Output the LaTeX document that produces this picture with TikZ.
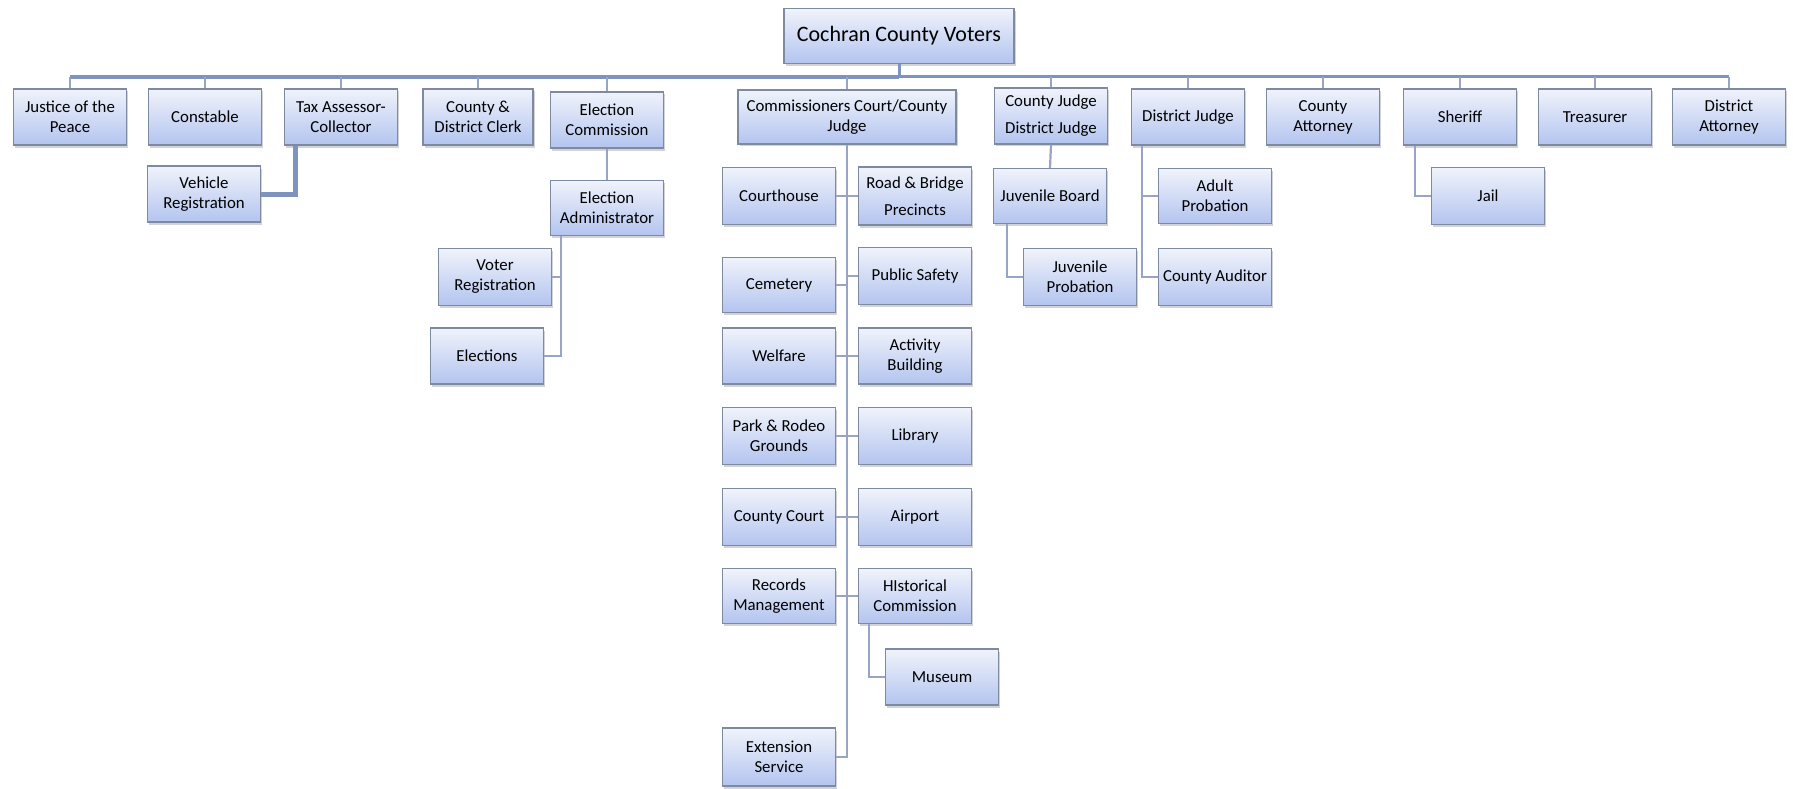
\documentclass[tikz,border=0pt]{standalone}
\usepackage{fontspec}
\setmainfont{Carlito}
\usetikzlibrary{calc,shadows}
\definecolor{boxtop}{HTML}{F0F3FB}
\definecolor{boxbot}{HTML}{B3C4EF}
\definecolor{boxline}{HTML}{7E8AA2}
\definecolor{linkc}{HTML}{7F93BF}
\definecolor{linkl}{HTML}{98A4C4}
\tikzset{
  orgbox/.style={draw=boxline, line width=1.1pt, top color=boxtop, bottom color=boxbot,
    minimum width=113pt, minimum height=56pt, inner sep=1pt, align=center,
    font=\fontsize{16.8}{20}\selectfont,
    drop shadow={shadow xshift=1.5pt, shadow yshift=-2.5pt, opacity=0.35, fill=gray}},
  busline/.style={draw=linkc, line width=4.5pt},
  busthin/.style={draw=linkc, line width=3pt},
  link/.style={draw=linkl, line width=2.2pt},
  thick link/.style={draw=linkc, line width=5pt}
}
\begin{document}
\begin{tikzpicture}[x=1pt,y=-1pt]
\useasboundingbox (0,0) rectangle (1793,789);
% top
\node[orgbox, minimum width=230pt, minimum height=55pt, font=\fontsize{22}{26}\selectfont] (cochran) at (899,36) {Cochran County Voters};
\coordinate (busy) at (0,77);
% first row
\node[orgbox] (justice) at (70,117) {Justice of the\\Peace};
\node[orgbox] (constable) at (205,117) {Constable};
\node[orgbox] (tax) at (341,117) {Tax Assessor-\\Collector};
\node[orgbox, minimum width=110pt] (clerk) at (478,117) {County \&\\District Clerk};
\node[orgbox] (elcom) at (607,120) {Election\\Commission};
\node[orgbox, minimum width=218pt, minimum height=54pt] (comm) at (847,117) {Commissioners Court/County\\Judge};
\node[orgbox] (cjudge) at (1051,116) {County Judge\\[7pt]District Judge};
\node[orgbox] (djudge) at (1188,117) {District Judge};
\node[orgbox] (cattorney) at (1323,117) {County\\Attorney};
\node[orgbox] (sheriff) at (1460,117) {Sheriff};
\node[orgbox] (treasurer) at (1595,117) {Treasurer};
\node[orgbox] (dattorney) at (1729,117) {District\\Attorney};
% second level
\node[orgbox] (vehicle) at (204,194) {Vehicle\\Registration};
\node[orgbox, minimum height=55pt] (eladmin) at (607,208) {Election\\Administrator};
\node[orgbox, minimum height=57pt] (voterreg) at (495,277) {Voter\\Registration};
\node[orgbox] (elections) at (487,356) {Elections};
\node[orgbox, minimum height=57pt] (courthouse) at (779,196) {Courthouse};
\node[orgbox, minimum height=58pt] (road) at (915,196) {Road \& Bridge\\[7pt]Precincts};
\node[orgbox, minimum height=55pt] (cemetery) at (779,285) {Cemetery};
\node[orgbox, minimum height=57pt] (publicsafety) at (915,276) {Public Safety};
\node[orgbox] (welfare) at (779,356) {Welfare};
\node[orgbox] (activity) at (915,356) {Activity\\Building};
\node[orgbox, minimum height=57pt] (park) at (779,436) {Park \& Rodeo\\Grounds};
\node[orgbox, minimum height=57pt] (library) at (915,436) {Library};
\node[orgbox, minimum height=57pt] (countycourt) at (779,517) {County Court};
\node[orgbox, minimum height=57pt] (airport) at (915,517) {Airport};
\node[orgbox, minimum height=55pt] (records) at (779,596) {Records\\Management};
\node[orgbox, minimum height=55pt] (historical) at (915,596) {HIstorical\\Commission};
\node[orgbox] (museum) at (942,677) {Museum};
\node[orgbox, minimum height=58pt] (extension) at (779,757) {Extension\\Service};
\node[orgbox, minimum height=55pt] (juvboard) at (1050,196) {Juvenile Board};
\node[orgbox, minimum height=57pt] (juvprob) at (1080,277) {Juvenile\\Probation};
\node[orgbox, minimum height=55pt] (adultprob) at (1215,196) {Adult\\Probation};
\node[orgbox, minimum height=57pt] (auditor) at (1215,277) {County Auditor};
\node[orgbox, minimum height=57pt] (jail) at (1488,196) {Jail};
% helper coordinates
\coordinate (taxsp) at ($(tax.south west)+(12,0)$);
\coordinate (easp) at ($(eladmin.south west)+(11,0)$);
\coordinate (jbsp) at ($(juvboard.south west)+(14,0)$);
\coordinate (djsp) at ($(djudge.south west)+(11,0)$);
\coordinate (shsp) at ($(sheriff.south west)+(12,0)$);
\coordinate (hisp) at ($(historical.south west)+(11,0)$);
% bus
\draw[busline] (justice.north |- busy) -- (cochran.south |- busy);
\draw[busthin] (cochran.south |- busy) -- (dattorney.north |- busy);
\draw[busthin] (cochran.south) -- (cochran.south |- busy);
\foreach \n in {justice,constable,tax,clerk,elcom,comm,cjudge,djudge,cattorney,sheriff,treasurer,dattorney}
  \draw[link, line width=2.6pt] (\n.north) -- (\n.north |- busy);
% tax
\draw[thick link] (taxsp) |- (vehicle.east);
% election
\draw[link] (elcom.south) -- (eladmin.north);
\draw[link] (easp) |- (elections.east);
\draw[link] (voterreg.east) -- (voterreg.east -| easp);
% commissioners
\draw[link] (comm.south) -- (comm.south |- extension.east) -- (extension.east);
\foreach \n in {courthouse,cemetery,welfare,park,countycourt,records}
  \draw[link] (\n.east) -- (\n.east -| comm.south);
\foreach \n in {road,publicsafety,activity,library,airport,historical}
  \draw[link] (\n.west) -- (\n.west -| comm.south);
\draw[link] (hisp) |- (museum.west);
% judges
\draw[link] (cjudge.south) -- (juvboard.north);
\draw[link] (jbsp) |- (juvprob.west);
\draw[link] (djsp) |- (auditor.west);
\draw[link] (adultprob.west) -- (adultprob.west -| djsp);
% sheriff
\draw[link] (shsp) |- (jail.west);
\end{tikzpicture}
\end{document}
